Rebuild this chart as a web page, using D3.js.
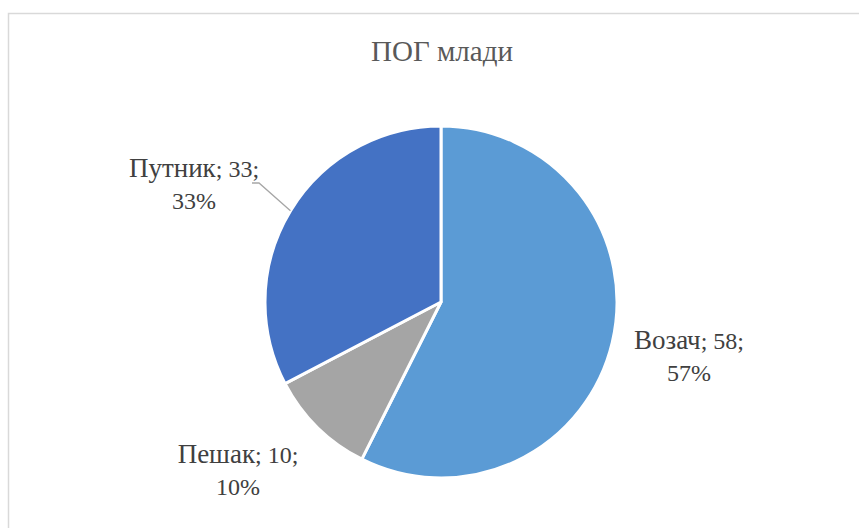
<!DOCTYPE html>
<html>
<head>
<meta charset="utf-8">
<script src="https://cdn.jsdelivr.net/npm/d3@7"></script>
<style>
  html, body { margin: 0; padding: 0; background: #ffffff; }
  svg { display: block; }
  .serif { font-family: "Liberation Serif", "DejaVu Serif", serif; }
</style>
</head>
<body>
<svg id="chart" width="859" height="528"></svg>
<script>
// Road-user categories and counts
const categories = ["Возач", "Пешак", "Путник"];
const values = [58, 10, 33];
const percentLabels = ["57%", "10%", "33%"];
const colors = ["#5B9BD5", "#A5A5A5", "#4472C4"];
const title = "ПОГ млади";

const svg = d3.select("#chart");

// chart frame
svg.append("rect")
  .attr("x", 8.5).attr("y", 13.5)
  .attr("width", 870).attr("height", 540)
  .attr("fill", "#ffffff")
  .attr("stroke", "#d9d9d9")
  .attr("stroke-width", 1.5);

svg.append("text")
  .attr("class", "serif")
  .attr("x", 442).attr("y", 61)
  .attr("text-anchor", "middle")
  .attr("font-size", 29)
  .attr("fill", "#595959")
  .text(title);

const cx = 441, cy = 302, r = 176;
const data = categories.map((c, i) => ({ name: c, value: values[i], pct: percentLabels[i], color: colors[i] }));

const pie = d3.pie().sort(null).value(d => d.value);
const arc = d3.arc().innerRadius(0).outerRadius(r);
const arcs = pie(data);

const g = svg.append("g").attr("transform", `translate(${cx},${cy})`);
g.selectAll("path.slice")
  .data(arcs)
  .enter().append("path")
  .attr("class", "slice")
  .attr("d", arc)
  .attr("fill", d => d.data.color)
  .attr("stroke", "#ffffff")
  .attr("stroke-width", 3)
  .attr("stroke-linejoin", "round");

// label anchor points (line centres) relative to the pie centre
const labelPos = {
  "Возач": [248, 47],
  "Пешак": [-203, 161],
  "Путник": [-247, -125]
};

arcs.forEach(a => {
  const [lx, ly] = labelPos[a.data.name];
  const t = g.append("text")
    .attr("class", "serif")
    .attr("text-anchor", "middle")
    .attr("font-size", 24)
    .attr("fill", "#404040");
  t.append("tspan").attr("x", lx).attr("y", ly).attr("font-size", 27).text(a.data.name);
  t.append("tspan").text(`; ${a.data.value};`);
  t.append("tspan").attr("x", lx).attr("y", ly + 32).text(a.data.pct);
});

// leader line for the Путник label
const put = arcs[2];
const mid = (put.startAngle + put.endAngle) / 2;
const edge = [Math.sin(mid) * r, -Math.cos(mid) * r];
g.append("polyline")
  .attr("points", [[-189, -119], [-182, -119], [edge[0], edge[1]]].map(p => p.join(",")).join(" "))
  .attr("fill", "none")
  .attr("stroke", "#a6a6a6")
  .attr("stroke-width", 1.3);
</script>
</body>
</html>
